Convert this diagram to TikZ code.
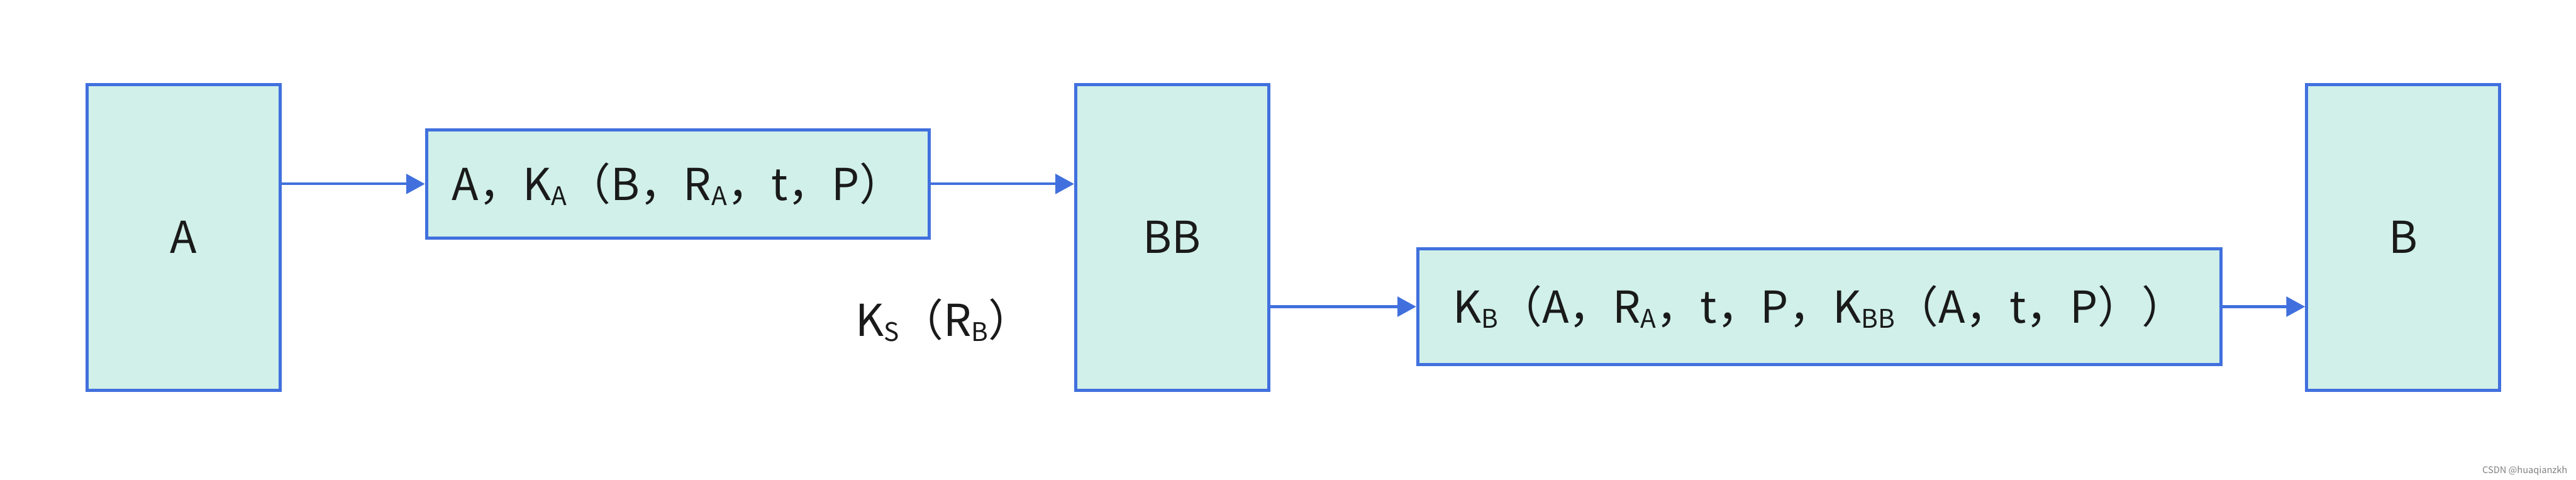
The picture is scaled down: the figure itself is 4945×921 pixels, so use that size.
\documentclass[tikz,border=0pt]{standalone}
\usepackage{fontspec}
\setmainfont{Noto Sans CJK SC}
\usetikzlibrary{arrows.meta}
\definecolor{boxblue}{RGB}{65,112,222}
\definecolor{boxfill}{RGB}{208,240,233}
\definecolor{inkblack}{RGB}{26,26,26}
\newcommand\subs[1]{\raisebox{-0.1cm}{\fontsize{14}{14}\selectfont #1}}
\begin{document}
\begin{tikzpicture}[x=0.01cm,y=-0.01cm,
  box/.style={draw=boxblue, fill=boxfill, line width=0.06cm, inner sep=0pt, text=inkblack, font=\fontsize{24}{24}\selectfont},
  tall/.style={box, minimum width=3.70cm, minimum height=5.87cm},
  conn/.style={draw=boxblue, line width=0.05cm, -{Triangle[length=0.36cm,width=0.38cm]}}]
\useasboundingbox (0,0) rectangle (4945,921);
\node[tall] (A) at (352.5,455.5) {A};
\node[box, minimum width=9.64cm, minimum height=2.08cm] (KA) at (1301,353) {A，K\subs{A}（B，R\subs{A}，t，P）};
\node[tall] (BB) at (2250,455.5) {BB};
\node[box, minimum width=15.41cm, minimum height=2.23cm] (KB) at (3492.5,588.5) {K\subs{B}（A，R\subs{A}，t，P，K\subs{BB}（A，t，P））};
\node[tall] (B) at (4613,455.5) {B};
\node[anchor=base west, inner sep=0pt, text=inkblack, font=\fontsize{24}{24}\selectfont] (KS) at (1642,645) {K\subs{S}（R\subs{B}）};
\node[anchor=base east, inner sep=0pt, text=gray, font=\fontsize{5}{5}\selectfont] (wm) at (4929,908) {CSDN @huaqianzkh};
\draw[conn] (KA.west -| A.east) -- (KA.west);
\draw[conn] (KA.east) -- (KA.east -| BB.west);
\draw[conn] (KB.west -| BB.east) -- (KB.west);
\draw[conn] (KB.east) -- (KB.east -| B.west);
\end{tikzpicture}
\end{document}
